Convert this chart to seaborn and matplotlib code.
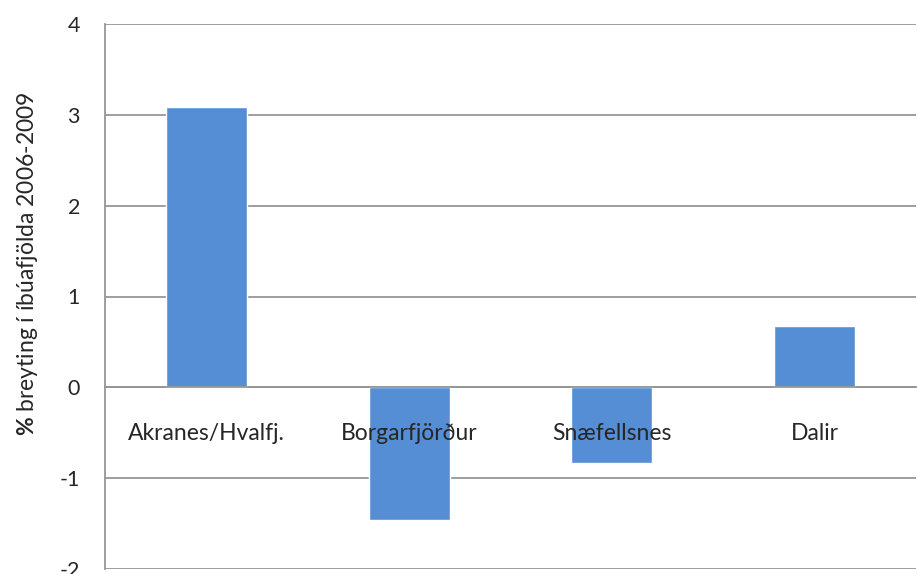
import pandas as pd
import matplotlib
matplotlib.use("Agg")
import matplotlib.pyplot as plt
import seaborn as sns
from matplotlib.ticker import FixedLocator

# Data
regions = ["Akranes/Hvalfj.", "Borgarfjörður", "Snæfellsnes", "Dalir"]
change_pct = [3.09, -1.46, -0.83, 0.68]
y_ticks = [-2, -1, 0, 1, 2, 3, 4]

df = pd.DataFrame({"region": regions, "change": change_pct})

# Settings
sns.set_style("white")
plt.rcParams["font.family"] = ["Lato", "DejaVu Sans"]
plt.rcParams["mathtext.fontset"] = "custom"
plt.rcParams["mathtext.rm"] = "Lato"
plt.rcParams["mathtext.bf"] = "Lato:bold"
plt.rcParams["axes.unicode_minus"] = False

line_col = "#969696"

fig = plt.figure(figsize=(9.17, 5.74), dpi=100)
ax = fig.add_axes([105 / 917, 5 / 574, 811 / 917, 545 / 574])

sns.barplot(data=df, x="region", y="change", color="#558ED5", width=0.4,
            saturation=1, ax=ax)

ax.set_ylim(-2, 4)
ax.set_xlim(-0.5, 3.5)
ax.set_yticks(y_ticks)
ax.yaxis.grid(True, color=line_col, linewidth=1.3)
ax.set_axisbelow(True)
ax.xaxis.set_zorder(3)  # category names drawn over the bars

for s in ["top", "right"]:
    ax.spines[s].set_visible(False)
ax.spines["left"].set_color(line_col)
ax.spines["left"].set_linewidth(1.3)
ax.spines["bottom"].set_position(("data", 0))
ax.spines["bottom"].set_color(line_col)
ax.spines["bottom"].set_linewidth(1.3)

# category labels under the zero line, boundary ticks between categories
ax.xaxis.set_minor_locator(FixedLocator([0.5, 1.5, 2.5]))
ax.tick_params(axis="x", which="major", length=0, pad=26, labelsize=16.5)
ax.tick_params(axis="x", which="minor", length=7, width=1.3, color=line_col,
               direction="out")
ax.tick_params(axis="y", length=8, width=1.3, color=line_col, pad=10,
               labelsize=15.5, direction="out")
ax.set_xlabel("")
ax.set_ylabel(r"$\mathbf{\%}$ breyting í íbúafjölda 2006-2009", fontsize=16.5)
ax.yaxis.set_label_coords(-0.08, 0.56)

plt.savefig("out.png", dpi=100)
